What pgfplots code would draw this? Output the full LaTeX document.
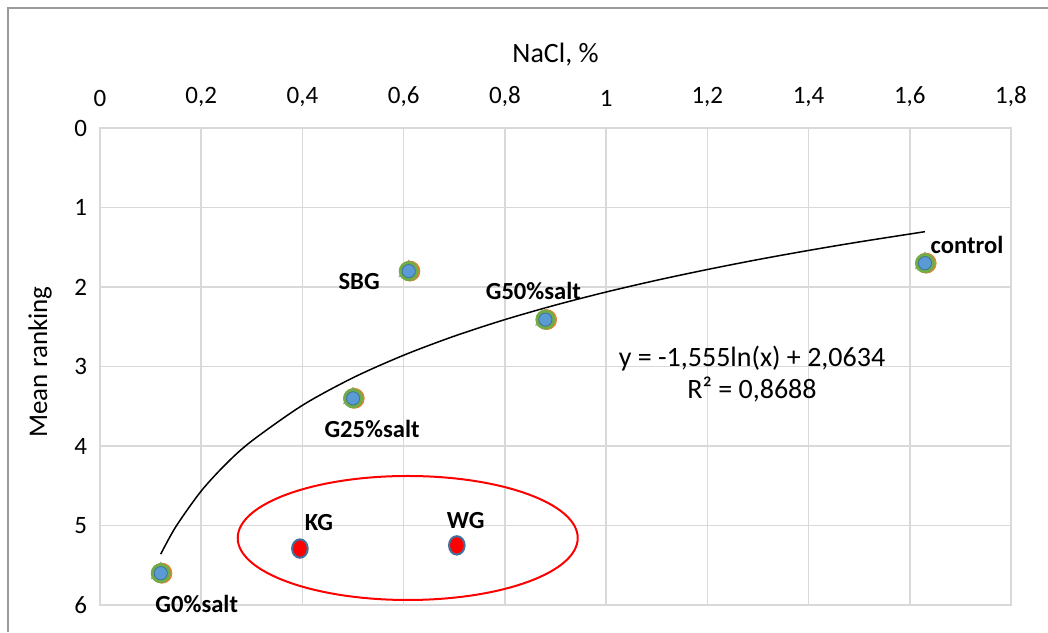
\documentclass[border=0pt]{standalone}
\usepackage{pgfplots}
\usepackage{pgfplotstable}
\pgfplotsset{compat=1.18}
\usepackage{fontspec}
\setmainfont{Carlito}
\definecolor{gridc}{HTML}{D9D9D9}
\definecolor{framec}{HTML}{9A9A9A}
\definecolor{mblue}{HTML}{5B9BD5}
\definecolor{mblueb}{HTML}{41719C}
\definecolor{mgreen}{HTML}{70AD47}
\definecolor{morange}{HTML}{ED7D31}
\definecolor{mgray}{HTML}{A5A5A5}

\pgfplotstableread{
x y
0.12 5.60
0.50 3.40
0.61 1.80
0.88 2.41
1.63 1.70
}\grp
\pgfplotstableread{
x y
0.395 5.29
0.705 5.25
}\redpts
\pgfplotstableread{
x y
0.12 5.360
0.15 5.013
0.20 4.566
0.25 4.219
0.30 3.936
0.40 3.488
0.50 3.141
0.60 2.858
0.70 2.618
0.80 2.410
0.90 2.227
1.00 2.063
1.10 1.915
1.20 1.780
1.30 1.655
1.40 1.540
1.50 1.433
1.63 1.304
}\trend

\begin{document}
\begin{tikzpicture}[x=0.5pt,y=0.5pt]
\useasboundingbox (0,0) rectangle (1048,632);
\draw[framec, line width=1pt] (8,0) -- (8,624) -- (1048,624);
\begin{axis}[
  at={(50pt,13.5pt)}, anchor=south west,
  scale only axis, width=455.5pt, height=238.5pt,
  xmin=0, xmax=1.8, ymin=0, ymax=6,
  y dir=reverse,
  xtick={0,0.2,...,1.8}, ytick={0,1,...,6},
  xticklabel pos=right,
  major tick length=0pt,
  grid=major,
  major grid style={gridc, line width=0.75pt},
  axis line style={gridc, line width=0.75pt},
  tick label style={font=\fontsize{12.5}{14}\selectfont},
  xticklabel style={yshift=7pt},
  yticklabel style={xshift=-3pt},
  /pgf/number format/.cd, use comma, fixed, precision=1, assume math mode=true,
  /pgfplots/.cd,
  clip=false,
]
\addplot[black, line width=0.75pt, smooth, no marks] table {\trend};
\addplot[only marks, mark=triangle*, mark size=5.5pt, mark options={fill=mgray, draw=mgray}] table {\grp};
\addplot[only marks, mark=*, mark size=5pt, mark options={fill=morange, draw=morange, xshift=0.6pt}] table {\grp};
\addplot[only marks, mark=*, mark size=4.8pt, mark options={fill=mgreen, draw=mgreen}] table {\grp};
\addplot[only marks, mark=*, mark size=3.3pt, mark options={fill=mblue, draw=mblueb, line width=0.4pt}] table {\grp};
\addplot[only marks, mark=*, mark size=4.6pt, mark options={fill=red, draw=mblueb, line width=1pt, xscale=0.85}] table {\redpts};
\draw[red, line width=1pt] (axis cs:0.608,5.157) ellipse [x radius=85pt, y radius=31pt];
\begin{scope}[every node/.style={font=\fontsize{12.3}{14}\selectfont\bfseries}]
\node at (axis cs:0.12,5.6) [xshift=18pt, yshift=-15.5pt] {G0\%salt};
\node at (axis cs:0.50,3.4) [xshift=9.5pt, yshift=-15.5pt] {G25\%salt};
\node[anchor=east] at (axis cs:0.61,1.8) [xshift=-11pt, yshift=-5pt] {SBG};
\node at (axis cs:0.88,2.41) [xshift=-6pt, yshift=14.5pt] {G50\%salt};
\node at (axis cs:1.63,1.7) [xshift=21pt, yshift=9pt] {control};
\node at (axis cs:0.395,5.29) [xshift=9.5pt, yshift=13pt] {KG};
\node at (axis cs:0.705,5.25) [xshift=4.5pt, yshift=12.5pt] {WG};
\end{scope}
\end{axis}
\node[font=\fontsize{14}{16}\selectfont, align=center] at (752,632-374) {y = -1,555ln(x) + 2,0634\\R² = 0,8688};
\node[font=\fontsize{14}{16}\selectfont] at (555.5,632-55) {NaCl, \%};
\node[font=\fontsize{13.5}{16}\selectfont, rotate=90] at (40,632-362) {Mean ranking};
\end{tikzpicture}
\end{document}
